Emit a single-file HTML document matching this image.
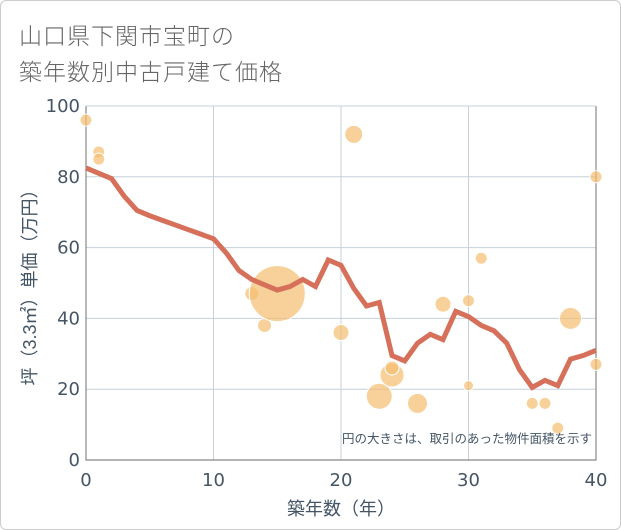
<!DOCTYPE html>
<html><head><meta charset="utf-8"><style>
body{margin:0;background:#fff;}
#wrap{position:relative;width:619px;height:528px;border:1px solid #ccc;border-radius:6px;overflow:hidden;font-family:"Liberation Sans","Noto Sans CJK JP",sans-serif;}
.t{position:absolute;left:18px;font-size:23px;color:#666;letter-spacing:1px;font-weight:300;}
</style></head><body>
<div id="wrap">
<div class="t" style="top:16px">山口県下関市宝町の</div>
<div class="t" style="top:52px">築年数別中古戸建て価格</div>
<svg id="c" width="621" height="530" style="position:absolute;left:-1px;top:-1px"></svg>
</div>
<script>
const xTicks=[0,10,20,30,40];
const yTicks=[0,20,40,60,80,100];
const lineYears=[0,1,2,3,4,5,6,7,8,9,10,11,12,13,14,15,16,17,18,19,20,21,22,23,24,25,26,27,28,29,30,31,32,33,34,35,36,37,38,39,40];
const lineValues=[82.5,81,79.5,74.5,70.5,69,67.7,66.4,65.1,63.8,62.5,58.5,53.5,51,49.5,48,49,51,49,56.5,55,48.5,43.5,44.5,29.5,28,33,35.5,34,42,40.5,38,36.5,33,25.5,20.5,22.5,21,28.5,29.5,31];
const bubbleYears=[0,1,1,13,14,15,20,21,23,24,24,26,28,30,30,31,35,36,37,38,40,40];
const bubbleValues=[96,87,85,47,38,47,36,92,18,24,26,16,44,45,21,57,16,16,9,40,80,27];
const bubbleSizes=[6,6,6,7,7,28,8,9,13,12,7,10,8,6,5,6,6,6,6,11,6,6];
const NS="http://www.w3.org/2000/svg";
const svg=document.getElementById('c');
const L=86,R=596,T=106,B=460;
const xs=v=>L+(v-0)/40*(R-L);
const ys=v=>B-(v/100)*(B-T);
function mk(tag,attrs,parent){const e=document.createElementNS(NS,tag);for(const k in attrs)e.setAttribute(k,attrs[k]);(parent||svg).appendChild(e);return e;}
const grid=mk('g',{});


xTicks.forEach(t=>{mk('line',{x1:xs(t),x2:xs(t),y1:T,y2:B,stroke:'#c5d0dc','stroke-width':1},grid);
 const tx=mk('text',{x:xs(t),y:B+26,'text-anchor':'middle','font-size':18,fill:'#445566','font-family':'DejaVu Sans, sans-serif'});tx.textContent=t;
 
 });
yTicks.forEach(t=>{mk('line',{x1:L,x2:R,y1:ys(t),y2:ys(t),stroke:'#c5d0dc','stroke-width':1},grid);
 const tx=mk('text',{x:L-6,y:ys(t)+6,'text-anchor':'end','font-size':18,fill:'#445566','font-family':'DejaVu Sans, sans-serif'});tx.textContent=t;
 
 });
const ax=mk('path',{d:`M${L},${T} V${B} H${R} V${T}`,fill:'none',stroke:'#888','stroke-width':1.2});


mk('line',{x1:L,x2:R,y1:T,y2:T,stroke:'#c5d0dc','stroke-width':1});
bubbleYears.forEach((yr,i)=>{const c=mk('circle',{cx:xs(yr),cy:ys(bubbleValues[i]),r:bubbleSizes[i],fill:'rgba(243,190,110,0.7)',stroke:'#fff','stroke-width':1});
 
 });
const pl=mk('polyline',{points:lineYears.map((y,i)=>xs(y)+','+ys(lineValues[i])).join(' '),fill:'none',stroke:'#d6705a','stroke-width':5,'stroke-linejoin':'miter'});


const note=mk('text',{x:592,y:443,'text-anchor':'end','font-size':12.5,fill:'#445566'});note.textContent='円の大きさは、取引のあった物件面積を示す';


const xt=mk('text',{x:(L+R)/2,y:515,'text-anchor':'middle','font-size':18,fill:'#445566'});xt.textContent='築年数（年）';


const yt=mk('text',{x:0,y:0,'text-anchor':'middle','font-size':18,fill:'#445566',transform:`translate(36,${(T+B)/2}) rotate(-90)`});yt.textContent='坪（3.3㎡）単価（万円）';


</script>
</body></html>
